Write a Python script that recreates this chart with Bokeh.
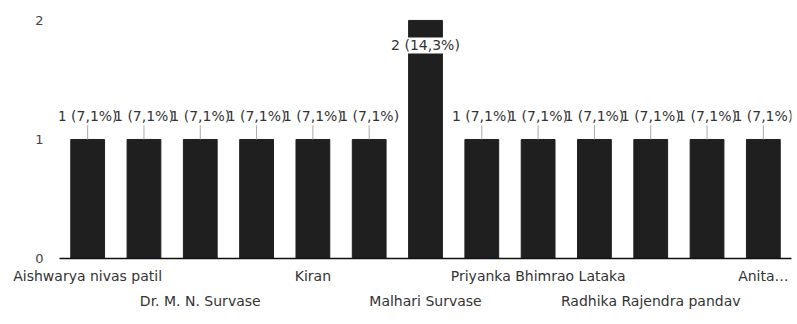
from bokeh.plotting import figure
from bokeh.models import ColumnDataSource, LabelSet, LinearAxis, FixedTicker, Range1d
from bokeh.core.properties import value
from bokeh.embed import file_html
from bokeh.resources import INLINE

# ---- data ----
names = ["Aishwarya nivas patil", "", "Dr. M. N. Survase", "", "Kiran", "",
         "Malhari Survase", "", "Priyanka Bhimrao Lataka", "",
         "Radhika Rajendra pandav", "", "Anita…"]
counts = [1, 1, 1, 1, 1, 1, 2, 1, 1, 1, 1, 1, 1]
y_ticks = [0, 1, 2]

total = sum(counts)
xs = list(range(len(counts)))
labels = [f"{c} ({c / total * 100:.1f}%)".replace(".", ",") for c in counts]
cmax = max(counts)

FONT = value("DejaVu Sans")

p = figure(width=797, height=322, x_range=Range1d(-0.5, len(counts) - 0.5),
           y_range=Range1d(0, 2.05), output_backend="svg", toolbar_location=None,
           x_axis_location=None, min_border_left=59, min_border_right=6,
           min_border_top=14, min_border_bottom=64)
p.outline_line_color = None
p.xgrid.visible = False
p.ygrid.visible = False
p.background_fill_color = "white"

p.vbar(x=xs, top=counts, width=0.6, color="#1f1f1f")

# leader lines for labels above bars
small = [i for i in xs if counts[i] < cmax]
big = [i for i in xs if counts[i] == cmax]
p.segment(x0=[xs[i] for i in small], y0=[counts[i] for i in small],
          x1=[xs[i] for i in small], y1=[counts[i] + 0.12 for i in small],
          line_color="#aaaaaa", line_width=1)

src_small = ColumnDataSource(dict(x=[xs[i] for i in small], y=[counts[i] for i in small],
                                  t=[labels[i] for i in small]))
src_big = ColumnDataSource(dict(x=[xs[i] for i in big], y=[counts[i] for i in big],
                                t=[labels[i] for i in big]))
p.add_layout(LabelSet(x="x", y="y", text="t", source=src_small, y_offset=23,
                      text_align="center", text_baseline="middle", text_font=FONT,
                      text_font_size="14px", text_color="#333333"))
p.add_layout(LabelSet(x="x", y="y", text="t", source=src_big, y_offset=-25,
                      text_align="center", text_baseline="middle", text_font=FONT,
                      text_font_size="14px", text_color="#333333",
                      background_fill_color="white"))

# y axis
p.yaxis.ticker = FixedTicker(ticks=y_ticks)
p.yaxis.axis_line_color = None
p.yaxis.major_tick_line_color = None
p.yaxis.minor_tick_line_color = None
p.yaxis.major_label_standoff = 10
p.yaxis.major_label_text_font = "DejaVu Sans"
p.yaxis.major_label_text_font_size = "13px"
p.yaxis.major_label_text_color = "#444444"

# x axes: two staggered rows of category labels
row1 = [i for i in xs if names[i] and (i // 2) % 2 == 0]
row2 = [i for i in xs if names[i] and (i // 2) % 2 == 1]

def make_axis(ticks, standoff, line):
    ax = LinearAxis(ticker=FixedTicker(ticks=ticks),
                    major_label_overrides={t: names[t] for t in ticks})
    ax.major_tick_line_color = None
    ax.minor_tick_line_color = None
    ax.major_label_standoff = standoff
    ax.major_label_text_font = "DejaVu Sans"
    ax.major_label_text_font_size = "14px"
    ax.major_label_text_color = "#333333"
    if line:
        ax.axis_line_color = "#111111"
        ax.axis_line_width = 1.5
    else:
        ax.axis_line_color = None
    return ax

p.add_layout(make_axis(row1, 3, True), "below")
p.add_layout(make_axis(row2, 0, False), "below")

open("out.html", "w").write(file_html(p, INLINE))
